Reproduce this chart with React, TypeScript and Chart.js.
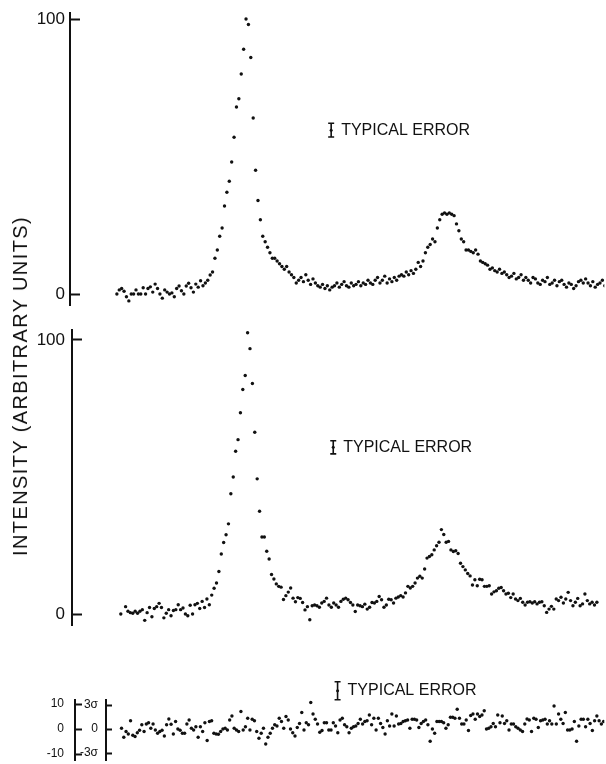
import React, { useEffect, useRef } from 'react';
import { Chart, registerables } from 'chart.js';

Chart.register(...registerables);

const FONT = '"Liberation Sans", Arial, Helvetica, sans-serif';
const INK = '#111';

// ---------- Panel 1 (top): intensity, arbitrary units ----------
const PANEL1_VALUES = [
  0, 1.5, 2, 1, -1, -2.5, 0, 0, 1.5, 0,
  0, 2.3, 0, 2, 2.6, 0.7, 3.6, 2, 0, -1.5,
  1.5, 0.7, 0, 0.4, -1, 2, 2.9, 1.2, 0, 2.9,
  3.9, 2.3, 0.7, 3.6, 2.5, 4.8, 3, 4, 5, 6.9,
  8, 13, 16, 21, 24, 32, 37, 41, 48, 57, 68, 71, 80, 89, 100,
  98, 86, 64, 45, 34, 27, 21, 19, 17, 15, 13, 13, 12, 11, 10, 9, 10, 8, 7, 6, 4, 5,
  6, 4.5, 7, 5, 3.5, 5.5, 4, 3,
  2.5, 3.5, 2, 3, 1.5, 2.5, 3,
  4, 2.5, 3.5, 4.5, 3, 2.5, 4, 3, 3.5, 4.5, 3, 4, 3.5,
  5, 4, 3.5, 5, 6, 4, 5, 6.5, 4, 5.5, 4.5, 6, 5, 6.5,
  7, 6.5, 8, 7, 8.5, 7.5, 9,
  11.5, 10, 12,
  15, 17, 18, 20, 19,
  24, 27,
  29, 29.5, 29, 29.5, 29, 28.5,
  25.5, 23, 20, 19, 16,
  16, 15.5, 15, 16, 14.5,
  12, 11.5, 11,
  10.5, 9, 9.5, 8.5, 8, 9, 7.5, 8,
  7, 6, 6.5, 7.5, 5.5, 6, 7, 5, 6,
  5, 4, 6, 5.5, 4, 3.5, 5, 4.5, 6, 3.5, 4, 5, 3, 4.5, 5, 3.5, 2.5, 4, 3.5, 2,
  3, 4.5, 5, 4, 5.5, 4, 3, 4.5, 2.5, 3.5, 4, 5, 3,
];
const PANEL1_TICKS = [0, 100];
const PANEL1_TICK_LABELS = ['0', '100'];

// ---------- Panel 2 (middle) ----------
const PANEL2_VALUES = [
  0, -4.7, 2.7, 1, 0.5, 0.3, 1, 0.3, 1, 1.6,
  -2.3, 0.5, 2.4, -1, 2, 2.7, 3.9, 2.4, -1.4, 0.3,
  1.6, -0.6, 1.3, 1.6, 3.4, 1.6, 2.2, 0, -0.6, 3.2,
  0, 3.4, 3.9, 2, 4.6, 2.4, 5.5, 3.4, 6.9,
  9.4, 11.3, 15.5, 21.9, 26.1, 28.9, 32.9, 43.9, 50, 59.4, 63.6, 73.4, 81.9, 87, 102.6,
  96.8, 84.1, 66.3, 49.3, 37.5, 28.1, 28.1, 22.9, 20.1, 14.4, 12.8, 11, 10.1, 9.8, 5.3, 6.7, 8, 9.5, 5.8, 4.5, 6,
  5.7, 4.2, 1.5, 2.7, -2.1, 3, 3.3, 3, 2.5, 4, 4.6, 5.8, 3.3, 2.5, 4, 3.3, 2.5, 4.6, 5.4, 5.8,
  5.2, 4.2, 3.3, 0.9, 3.3, 3, 2.7, 3.6, 1.8, 2.5, 4.2, 4, 4.6, 6.4, 5.2, 2.5, 3.3, 5.4, 5.2, 4,
  5.8, 6.2, 6.7, 6.2, 7.7, 10.1, 9.5, 10.1, 11.3, 13.1, 13.8, 13.1, 16.4, 20.4, 21, 21.6, 23.4, 24.9, 26.2, 30.8,
  29, 26.2, 26.5, 23.4, 22.8, 23.1, 22.1, 18.5, 17.3, 16.1, 14.8, 13.9, 10.6, 12.5, 10.3, 12.7, 12.5, 10.1, 10.1, 10.3,
  7.3, 8.1, 8.5, 9.4, 9.7, 8.5, 7.3, 7.6, 6, 7.3, 5.5, 4.9, 5.7, 4.3, 3.3, 4.3, 4.5, 4, 4.5, 3.7,
  4.3, 4.5, 3, 0.6, 1.8, 2.8, 1.8, 5.5, 4.9, 6.1, 4, 5.5, 7.9, 4.9, 3, 4.3, 5.7, 3, 3.7, 7.3,
  4.9, 3.7, 4.3, 3.3, 4.3,
];
const PANEL2_TICKS = [0, 100];
const PANEL2_TICK_LABELS = ['0', '100'];

// ---------- Panel 3 (bottom): residuals ----------
const PANEL3_VALUES = [
  0.3, -3.3, -1, -2, 3.3, -2.5, -3, -1.5, -0.5, 1.7,
  -1, 2, 2.5, 0.3, 2, -0.4, -1.7, -1, -0.5, -2.8,
  1.7, 4, 1.9, -2, 3, 0, -0.5, -1.7, -1.7, 2,
  3.6, 0.3, -0.4, 0.9, -3.3, 0.9, -1, 2.5, -4.6, 3,
  3.3, -1.7, -2, -2.1, -1, 0, 0.3, -0.4, 3.6, 5.2,
  0.3, -0.4, -1, 7, -0.4, 0.9, 4.3, -0.4, 3.9, 3.3,
  -1, -3.7, -1.7, 0.3, -6, -3.3, -1.7, 0.3, 1.7,
  1.2, 4.3, 3, 0.3, 5, 3.6, 0, -1.5, -2.8, 0.6,
  2.2, 6.6, -0.4, 2.5, 1.7, 10.6, 6, 3.9, 2, -1.3,
  -0.6, 2.5, 2.5, -0.4, -0.4, 2.5, 1.2, -1.5, 3.6, 4.3,
  1.7, 0.9, -1.5, 0.3, 0.9, 1.2, 2.2, 3.9, 2, 3,
  3.3, 5.6, 1.7, 4.3, -0.4, 4.3, 2.2, 0.6, -2, 3.3,
  1.2, 6, 1.2, 5.2, 2, 2.2, 3, 3.3, 3.6, 0.3,
  3.9, 3.9, 3.6, 0.6, 2.2, 3, 3.6, 1.7, -4.9, 0, -1.7,
  3, 3, 3, 2.5, 0.3, 1.7, 4.7, 4.7, 4.3, 7.9,
  4.3, 2, 2, 3.6, -0.6, 5.4, 6, 3.9, 6, 5,
  5.6, 7.3, 0, 0.3, 0.9, 2.2, 0.9, 5.6, 2.5, 5.2,
  2.2, 3.3, -0.4, 2, 2, 0.9, 0.3, -0.4, -1, 2,
  4, 3.6, -1, 4.3, 3.9, 0.6, 3.3, 3.6, 3.9, 2,
  3.3, 2, 9.2, 2, 6, 3.9, 2.2, 6.6, -0.4, -0.4,
  0, 3, -4.9, 1.2, 3.9, 3.9, 0.9, 3.9, 2.2, -0.6,
  3.3, 5.2, 3.3, 2, 3,
];
const PANEL3_TICKS = [10, 0, -10];
const PANEL3_TICK_LABELS = ['10', '0', '-10'];
const SIGMA = 3.2;
const SIGMA_TICKS = [3 * SIGMA, 0, -3 * SIGMA];
const SIGMA_TICK_LABELS = ['3σ', '0', '-3σ'];

// "Typical error" markers: [channel, intensity, half-height]
const ERROR1 = [89.6, 59.6, 2.5];
const ERROR2 = [88.8, 60.8, 2.4];
const ERROR3 = [95.9, 15.3, 3.6];
const ERROR_TEXT = 'TYPICAL ERROR';
const Y_TITLE = 'INTENSITY (ARBITRARY UNITS)';

function toPoints(values: number[]) {
  return values.map((v, i) => ({ x: i, y: v }));
}

function errorPlugin(id: string, marker: number[], text: string) {
  return {
    id,
    afterDatasetsDraw(chart: any) {
      const [ex, ey, half] = marker;
      const { ctx } = chart;
      const xs = chart.scales.x;
      const ys = chart.scales.y;
      const px = xs.getPixelForValue(ex);
      const pt = ys.getPixelForValue(ey + half);
      const pb = ys.getPixelForValue(ey - half);
      const pc = ys.getPixelForValue(ey);
      ctx.save();
      ctx.strokeStyle = INK;
      ctx.fillStyle = INK;
      ctx.lineWidth = 1.6;
      ctx.beginPath();
      ctx.moveTo(px, pt);
      ctx.lineTo(px, pb);
      ctx.moveTo(px - 3, pt);
      ctx.lineTo(px + 3, pt);
      ctx.moveTo(px - 3, pb);
      ctx.lineTo(px + 3, pb);
      ctx.stroke();
      ctx.beginPath();
      ctx.arc(px, pc, 1.5, 0, Math.PI * 2);
      ctx.fill();
      ctx.font = `16px ${FONT}`;
      ctx.textBaseline = 'middle';
      ctx.textAlign = 'left';
      ctx.fillText(text, px + 10, pc);
      ctx.restore();
    },
  };
}

function yAxis(opts: {
  min: number; max: number; ticks: number[]; labels: string[]; width: number;
  tickLength: number; padding: number; fontSize: number; weight?: number;
}) {
  return {
    type: 'linear',
    axis: 'y',
    position: 'left',
    min: opts.min,
    max: opts.max,
    weight: opts.weight ?? 0,
    afterFit: (s: any) => { s.width = opts.width; },
    afterBuildTicks: (s: any) => { s.ticks = opts.ticks.map((v) => ({ value: v })); },
    ticks: {
      autoSkip: false,
      color: INK,
      padding: opts.padding,
      font: { family: FONT, size: opts.fontSize },
      callback: (_v: any, i: number) => opts.labels[i] ?? '',
    },
    grid: {
      drawOnChartArea: false,
      drawTicks: true,
      tickLength: opts.tickLength,
      tickColor: INK,
      tickWidth: 2,
    },
    border: { display: true, color: INK, width: 2 },
  };
}

function dataset(values: number[]) {
  return {
    data: toPoints(values),
    showLine: false,
    pointRadius: 1.7,
    pointHoverRadius: 1.7,
    pointBackgroundColor: INK,
    pointBorderColor: INK,
    pointBorderWidth: 0,
    yAxisID: 'y',
  };
}

function baseOptions(padding: any, xMin: number, xMax: number, scales: any) {
  return {
    animation: false,
    responsive: false,
    maintainAspectRatio: false,
    events: [],
    layout: { padding },
    plugins: { legend: { display: false }, tooltip: { enabled: false }, title: { display: false } },
    scales: {
      x: { type: 'linear', display: false, min: xMin, max: xMax },
      ...scales,
    },
  };
}

function ChartCanvas({ top, height, build }: { top: number; height: number; build: (c: HTMLCanvasElement) => Chart }) {
  const ref = useRef<HTMLCanvasElement | null>(null);
  useEffect(() => {
    if (!ref.current) return;
    const chart = build(ref.current);
    return () => chart.destroy();
  }, []);
  return (
    <canvas
      ref={ref}
      width={606}
      height={height}
      style={{ position: 'absolute', left: 0, top, width: 606, height }}
    />
  );
}

// Canvas 1: page y -20..340, chart area 13..305
const buildPanel1 = (c: HTMLCanvasElement) =>
  new Chart(c, {
    type: 'scatter',
    data: { datasets: [dataset(PANEL1_VALUES)] },
    options: baseOptions({ left: 15, top: 33, right: 0, bottom: 35 }, -19.6, 203.8, {
      y: yAxis({ min: -4, max: 102.2, ticks: PANEL1_TICKS, labels: PANEL1_TICK_LABELS, width: 55, tickLength: -10, padding: 15, fontSize: 17 }),
    }) as any,
    plugins: [errorPlugin('err1', ERROR1, ERROR_TEXT)],
  });

// Canvas 2: page y 300..660, chart area 330..625
const buildPanel2 = (c: HTMLCanvasElement) =>
  new Chart(c, {
    type: 'scatter',
    data: { datasets: [dataset(PANEL2_VALUES)] },
    options: baseOptions({ left: 17, top: 30, right: 0, bottom: 35 }, -20.4, 202.1, {
      y: yAxis({ min: -4, max: 103.6, ticks: PANEL2_TICKS, labels: PANEL2_TICK_LABELS, width: 55, tickLength: -10, padding: 17, fontSize: 17 }),
    }) as any,
    plugins: [errorPlugin('err2', ERROR2, ERROR_TEXT)],
  });

// Canvas 3: page y 630..800 (clipped at 764), chart area 700..760
const buildPanel3 = (c: HTMLCanvasElement) =>
  new Chart(c, {
    type: 'scatter',
    data: { datasets: [dataset(PANEL3_VALUES)] },
    options: baseOptions({ left: 35, top: 70, right: 0, bottom: 40 }, -6.9, 214.3, {
      y: yAxis({ min: -12.4, max: 11.6, ticks: PANEL3_TICKS, labels: PANEL3_TICK_LABELS, width: 40, tickLength: -7, padding: 18, fontSize: 12, weight: 1 }),
      ys: yAxis({ min: -12.4, max: 11.6, ticks: SIGMA_TICKS, labels: SIGMA_TICK_LABELS, width: 31, tickLength: -6, padding: 14, fontSize: 12, weight: 0 }),
    }) as any,
    plugins: [errorPlugin('err3', ERROR3, ERROR_TEXT)],
  });

export default function App() {
  return (
    <div
      style={{
        position: 'absolute',
        left: 0,
        top: 0,
        width: 606,
        height: 764,
        overflow: 'hidden',
        background: '#fff',
      }}
    >
      <ChartCanvas top={-20} height={360} build={buildPanel1} />
      <ChartCanvas top={300} height={360} build={buildPanel2} />
      <ChartCanvas top={630} height={170} build={buildPanel3} />
      <div
        style={{
          position: 'absolute',
          left: 20,
          top: 386,
          transform: 'translate(-50%, -50%) rotate(-90deg)',
          whiteSpace: 'nowrap',
          fontFamily: FONT,
          fontSize: 20,
          letterSpacing: '1.4px',
          color: INK,
          lineHeight: 1,
        }}
      >
        {Y_TITLE}
      </div>
    </div>
  );
}
